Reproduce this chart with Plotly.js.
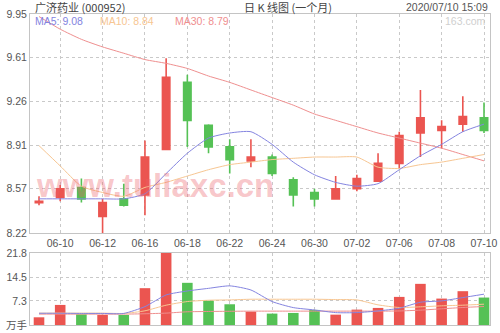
<!DOCTYPE html>
<html>
<head>
<meta charset="utf-8">
<script src="https://cdn.plot.ly/plotly-3.0.1.min.js"></script>
<style>
  html, body { margin: 0; padding: 0; background: #ffffff; }
  #chart { width: 500px; height: 333px; }
</style>
</head>
<body>
<div id="chart"></div>
<script>
// Trading days of the month
const dates = ['06-09','06-10','06-11','06-12','06-15','06-16','06-17','06-18','06-19','06-22','06-23',
               '06-24','06-29','06-30','07-01','07-02','07-03','07-06','07-07','07-08','07-09','07-10'];

// Daily prices (元)
const openP  = [8.46, 8.50, 8.58, 8.35, 8.49, 8.52, 8.88, 9.41, 9.07, 8.90, 8.79,
                8.82, 8.64, 8.54, 8.49, 8.57, 8.63, 8.77, 9.01, 9.03, 9.08, 9.13];
const closeP = [8.47, 8.57, 8.49, 8.46, 8.44, 8.82, 9.45, 9.11, 8.90, 8.80, 8.82,
                8.69, 8.52, 8.49, 8.57, 8.65, 8.77, 8.99, 9.13, 9.06, 9.14, 9.03];
const highP  = [8.51, 8.60, 8.65, 8.49, 8.61, 8.95, 9.60, 9.47, 9.08, 8.96, 8.96,
                8.84, 8.66, 8.57, 8.67, 8.68, 8.85, 9.02, 9.35, 9.11, 9.30, 9.25];
const lowP   = [8.44, 8.47, 8.46, 8.22, 8.43, 8.36, 8.88, 8.90, 8.85, 8.69, 8.74,
                8.67, 8.43, 8.43, 8.49, 8.55, 8.63, 8.73, 8.82, 8.89, 9.02, 9.01];

// Price moving averages
const ma5  = [8.49, 8.49, 8.49, 8.49, 8.49, 8.53, 8.69, 8.85, 8.97, 9.01, 9.02,
              8.92, 8.78, 8.68, 8.62, 8.59, 8.61, 8.72, 8.83, 8.92, 9.02, 9.08];
const ma10 = [8.91, 8.75, 8.59, 8.54, 8.51, 8.58, 8.62, 8.67, 8.72, 8.76, 8.78,
              8.80, 8.81, 8.82, 8.82, 8.82, 8.74, 8.73, 8.76, 8.78, 8.81, 8.84];
const ma30 = [9.93, 9.83, 9.75, 9.69, 9.64, 9.59, 9.56, 9.52, 9.46, 9.41, 9.35,
              9.29, 9.23, 9.16, 9.11, 9.06, 9.01, 8.97, 8.93, 8.89, 8.84, 8.79];

// Volume (万手) and its moving averages
const volume = [2.33, 6.08, 3.24, 3.04, 3.04, 11.15, 21.8, 12.77, 7.40, 6.28, 4.05,
                3.45, 3.65, 4.56, 3.14, 4.66, 5.17, 8.51, 12.46, 8.00, 10.24, 8.31];
const volMa5  = [3.55, 3.55, 3.50, 3.50, 3.50, 5.57, 9.10, 10.30, 11.10, 11.85, 10.60,
                 7.10, 5.27, 4.56, 3.75, 3.75, 4.26, 5.07, 6.90, 7.30, 8.30, 9.33];
const volMa10 = [3.60, 3.60, 3.60, 3.60, 3.50, 4.30, 6.00, 7.10, 7.50, 7.60, 7.80,
                 7.80, 7.80, 7.80, 7.70, 7.60, 6.10, 5.30, 5.50, 5.80, 6.00, 6.30];
const volMa30 = [3.30, 3.30, 3.30, 3.30, 3.30, 3.40, 3.60, 4.00, 4.10, 4.15, 4.20,
                 4.20, 4.20, 4.20, 4.20, 4.20, 4.20, 4.25, 4.50, 4.90, 5.30, 5.60];

// Axis ticks
const dateTicks  = ['06-10','06-12','06-16','06-18','06-22','06-24','06-30','07-02','07-06','07-08','07-10'];
const priceTicks = [8.22, 8.57, 8.91, 9.26, 9.61, 9.95];
const volTicks   = [0, 7.3, 14.5, 21.8];
const volTickText = ['万手', '7.3', '14.5', '21.8'];

const RED = '#eb5550';
const GREEN = '#55c155';
const C_MA5 = '#8484e0';
const C_MA10 = '#f7c692';
const C_MA30 = '#ef8f8f';
const FONT = 'Liberation Sans, Arial, Noto Sans CJK SC, sans-serif';
const CJK = 'Noto Sans CJK SC, Liberation Sans, sans-serif';

const volColors = closeP.map((c, i) => c >= openP[i] ? RED : GREEN);

function maLine(y, color, xa, ya) {
  return { type: 'scatter', mode: 'lines', x: dates, y: y, xaxis: xa, yaxis: ya,
           line: { color: color, width: 1, shape: 'spline', smoothing: 0.6 },
           hoverinfo: 'skip', showlegend: false };
}

const traces = [
  maLine(ma30, C_MA30, 'x', 'y'),
  maLine(ma10, C_MA10, 'x', 'y'),
  maLine(ma5,  C_MA5,  'x', 'y'),
  {
    type: 'candlestick', x: dates, open: openP, high: highP, low: lowP, close: closeP,
    xaxis: 'x', yaxis: 'y', whiskerwidth: 0,
    increasing: { line: { color: RED, width: 1.6 }, fillcolor: RED },
    decreasing: { line: { color: GREEN, width: 1.6 }, fillcolor: GREEN },
    hoverinfo: 'skip', showlegend: false
  },
  {
    type: 'bar', x: dates, y: volume, xaxis: 'x2', yaxis: 'y2',
    marker: { color: volColors, line: { width: 0 } },
    hoverinfo: 'skip', showlegend: false
  },
  maLine(volMa30, C_MA30, 'x2', 'y2'),
  maLine(volMa10, C_MA10, 'x2', 'y2'),
  maLine(volMa5,  C_MA5,  'x2', 'y2')
];

const gridStyle = { showgrid: true, gridcolor: '#c9c9c9', griddash: 'dot', gridwidth: 1,
                    showline: true, mirror: true, linecolor: '#c4c4c4', linewidth: 1,
                    zeroline: false, ticks: '' };
const xRange = [-0.425, 21.283];

const layout = {
  width: 500, height: 333,
  margin: { l: 30, r: 10, t: 14, b: 8 },
  paper_bgcolor: '#ffffff', plot_bgcolor: '#ffffff',
  showlegend: false, hovermode: false,
  bargap: 0.5, boxgap: 0.5,
  font: { family: FONT, size: 10.5, color: '#555555' },
  xaxis: Object.assign({}, gridStyle, {
    type: 'category', range: xRange, anchor: 'y',
    tickvals: dateTicks, ticktext: dateTicks, showticklabels: true,
    tickfont: { family: FONT, size: 10.5, color: '#555555' },
    rangeslider: { visible: false }
  }),
  yaxis: Object.assign({}, gridStyle, {
    domain: [0.2958, 1], range: [8.22, 9.95], anchor: 'x',
    tickvals: priceTicks, ticktext: priceTicks.map(v => v.toFixed(2)),
    tickfont: { family: FONT, size: 10.5, color: '#555555' }
  }),
  xaxis2: Object.assign({}, gridStyle, {
    type: 'category', range: xRange, anchor: 'y2', matches: 'x',
    tickvals: dateTicks, showticklabels: false,
    rangeslider: { visible: false }
  }),
  yaxis2: Object.assign({}, gridStyle, {
    domain: [0, 0.2315], range: [0, 21.8], anchor: 'x2',
    tickvals: volTicks, ticktext: volTickText,
    tickfont: { family: FONT, size: 10.5, color: '#555555' }
  }),
  annotations: [
    { xref: 'paper', yref: 'paper', x: 0.006, y: 1.023, xanchor: 'left', yanchor: 'middle',
      text: '广济药业 (000952)', showarrow: false, font: { family: CJK, size: 11, color: '#444444' } },
    { xref: 'paper', yref: 'paper', x: 0.46, y: 1.023, xanchor: 'left', yanchor: 'middle',
      text: '日 K 线图 (一个月)', showarrow: false, font: { family: CJK, size: 11, color: '#444444' } },
    { xref: 'paper', yref: 'paper', x: 1.0, y: 1.023, xanchor: 'right', yanchor: 'middle',
      text: '2020/07/10 15:09', showarrow: false, font: { family: FONT, size: 10.5, color: '#555555' } },
    { xref: 'paper', yref: 'paper', x: 0.006, y: 0.977, xanchor: 'left', yanchor: 'middle',
      text: 'MA5: ' + ma5[ma5.length - 1].toFixed(2), showarrow: false, font: { family: FONT, size: 10.5, color: C_MA5 } },
    { xref: 'paper', yref: 'paper', x: 0.148, y: 0.977, xanchor: 'left', yanchor: 'middle',
      text: 'MA10: ' + ma10[ma10.length - 1].toFixed(2), showarrow: false, font: { family: FONT, size: 10.5, color: C_MA10 } },
    { xref: 'paper', yref: 'paper', x: 0.311, y: 0.977, xanchor: 'left', yanchor: 'middle',
      text: 'MA30: ' + ma30[ma30.length - 1].toFixed(2), showarrow: false, font: { family: FONT, size: 10.5, color: C_MA30 } },
    { xref: 'paper', yref: 'paper', x: 0.995, y: 0.977, xanchor: 'right', yanchor: 'middle',
      text: '163.com', showarrow: false, font: { family: FONT, size: 10.5, color: '#cfcfcf' } },
    { xref: 'paper', yref: 'paper', x: 0.272, y: 0.45, xanchor: 'center', yanchor: 'middle',
      text: '<b>www.tuliaxc.cn</b>', showarrow: false,
      font: { family: FONT, size: 33, color: 'rgba(236,96,106,0.36)' } }
  ]
};

Plotly.newPlot('chart', traces, layout, { staticPlot: true, displayModeBar: false });
</script>
</body>
</html>
